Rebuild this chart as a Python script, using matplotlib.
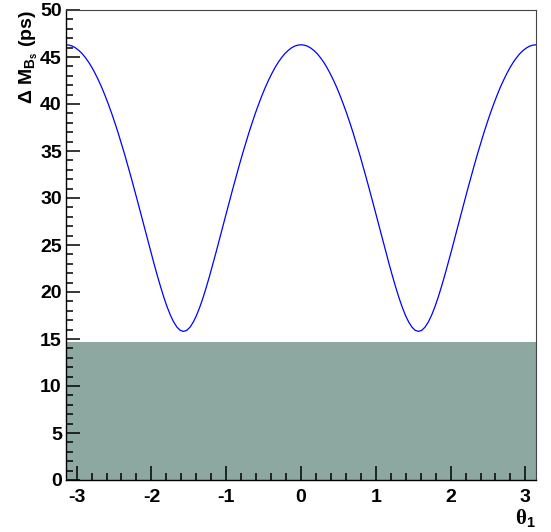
import numpy as np
import matplotlib
matplotlib.use('Agg')
import matplotlib.pyplot as plt
from matplotlib.ticker import MultipleLocator

plt.rcParams['font.family'] = ['Liberation Sans', 'DejaVu Sans']
plt.rcParams['font.weight'] = 'bold'
plt.rcParams['axes.unicode_minus'] = False
plt.rcParams['mathtext.fontset'] = 'custom'
plt.rcParams['mathtext.bf'] = 'Liberation Sans:bold'
plt.rcParams['mathtext.rm'] = 'Liberation Serif'
plt.rcParams['mathtext.default'] = 'bf'

# delta M_Bs read off one falling half-period (peak at theta=0 to dip at pi/2),
# 2.5 degree steps; the curve repeats this mirrored over -pi..pi
half = [46.30, 46.26, 46.15, 45.95, 45.68, 45.34, 44.91, 44.42, 43.85, 43.20,
        42.49, 41.72, 40.87, 39.96, 39.00, 37.97, 36.90, 35.77, 34.60, 33.38,
        32.13, 30.85, 29.55, 28.23, 26.90, 25.57, 24.26, 22.97, 21.72, 20.53,
        19.41, 18.40, 17.52, 16.80, 16.26, 15.92, 15.81]
rise = half[::-1]
dmbs = half + rise[1:] + half[1:] + rise[1:]
theta = np.linspace(-np.pi, np.pi, len(dmbs))

band_top = 14.7   # excluded region
xticks = [-3, -2, -1, 0, 1, 2, 3]
yticks = [0, 5, 10, 15, 20, 25, 30, 35, 40, 45, 50]

fig = plt.figure(figsize=(5.51, 5.32), dpi=100)
ax = fig.add_axes([66/551, 1-480/532, 470/551, 470/532])

ax.fill_between([-np.pi, np.pi], 0, band_top, color='#8ca8a0', lw=0)
ax.plot(theta, dmbs, color='#0000ff', lw=0.9)

ax.set_xlim(-np.pi, np.pi)
ax.set_ylim(0, 50)
ax.set_xticks(xticks)
ax.set_yticks(yticks)
ax.xaxis.set_minor_locator(MultipleLocator(0.2))
ax.yaxis.set_minor_locator(MultipleLocator(1))
ax.tick_params(which='both', direction='in', top=False, right=False, width=1.1, color='black')
ax.tick_params(which='major', length=10)
ax.tick_params(which='minor', length=5)
ax.tick_params(axis='x', which='major', pad=6.5, labelsize=14)
ax.tick_params(axis='y', which='major', pad=3, labelsize=14)

for s in ['top', 'right']:
    ax.spines[s].set_color('#444444')
    ax.spines[s].set_linewidth(0.8)
for s in ['left', 'bottom']:
    ax.spines[s].set_linewidth(1.0)

fig.text(0.052, 1-10/532, r'Δ M$_{B_s}$ (ps)', rotation=90, ha='center', va='top',
         fontsize=14, fontweight='bold')
fig.text(536/551, 1-530/532, r'$\mathrm{\theta}_{1}$', ha='right', va='bottom', fontsize=15)

fig.savefig('out.png', dpi=100)
